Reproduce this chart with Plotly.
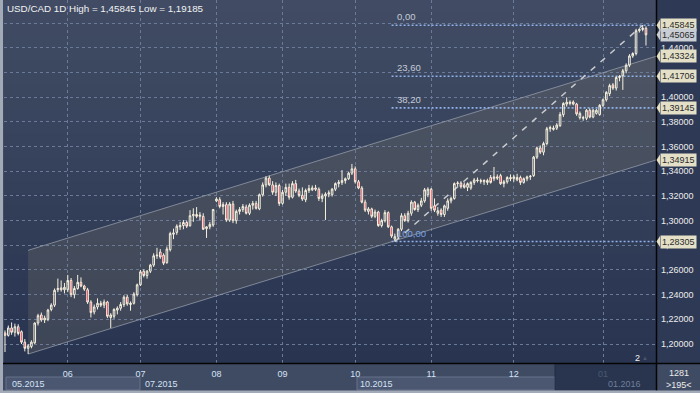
import plotly.graph_objects as go

# ---------------- data ----------------
opens = [
 1.2090,1.2070,1.2130,1.2095,1.2140,1.2100,1.2015,1.1965,1.1980,1.2010,1.2170,1.2235,1.2195,1.2200,1.2280,1.2315,1.2440,1.2455,1.2440,
 1.2440,1.2515,1.2400,1.2450,1.2500,1.2470,1.2440,1.2340,1.2260,1.2300,1.2330,1.2315,1.2340,1.2215,1.2225,1.2275,1.2290,1.2320,1.2380,1.2320,1.2330,1.2400,
 1.2480,1.2590,1.2555,1.2590,1.2640,1.2715,1.2745,1.2720,1.2660,1.2765,1.2890,1.2905,1.2950,1.2960,1.2985,1.2960,1.3040,1.3050,1.3035,1.3035,1.2935,1.2950,1.2965,
 1.3160,1.3170,1.3115,1.3130,1.3005,1.3135,1.3000,1.3075,1.3090,1.3110,1.3060,1.3125,1.3140,1.3095,1.3210,1.3290,1.3345,1.3290,1.3230,1.3285,
 1.3140,1.3230,1.3270,1.3190,1.3300,1.3240,1.3205,1.3170,1.3245,1.3250,1.3265,1.3255,1.3180,1.3200,1.3215,1.3210,1.3255,1.3300,1.3310,1.3325,1.3340,1.3385,
 1.3420,1.3315,1.3265,1.3150,1.3075,1.3095,1.3035,1.3070,1.2960,1.3000,1.3065,1.2950,1.2850,1.2870,1.2930,1.3040,1.3000,1.3060,1.3150,1.3090,1.3125,1.3160,1.3210,
 1.3255,1.3120,1.3060,1.3085,1.3050,1.3100,1.3160,1.3180,1.3300,1.3305,1.3290,1.3270,1.3265,1.3310,1.3330,1.3325,1.3315,1.3310,1.3350,1.3340,1.3355,1.3365,1.3300,1.3315,1.3350,
 1.3340,1.3330,1.3350,1.3310,1.3340,1.3355,1.3365,1.3515,1.3590,1.3555,1.3625,1.3745,1.3740,1.3750,1.3770,1.3860,1.3945,1.3950,1.3962,1.3945,1.3835,1.3830,1.3830,1.3895,1.3840,1.3870,1.3860,
 1.3935,1.3980,1.4030,1.4100,1.4075,1.4160,1.4175,1.4215,1.4260,1.4335,1.4355,1.4540,1.4550,1.4560,
]
highs = [
 1.2110,1.2150,1.2175,1.2165,1.2160,1.2110,1.2040,1.2000,1.2030,1.2175,1.2245,1.2255,1.2230,1.2285,1.2330,1.2450,1.2530,1.2515,1.2495,
 1.2560,1.2535,1.2470,1.2560,1.2540,1.2480,1.2455,1.2355,1.2320,1.2370,1.2350,1.2360,1.2350,1.2250,1.2290,1.2305,1.2340,1.2395,1.2400,1.2345,1.2420,1.2490,
 1.2600,1.2605,1.2600,1.2650,1.2735,1.2780,1.2770,1.2735,1.2790,1.2910,1.2935,1.2970,1.2990,1.3005,1.3000,1.3085,1.3100,1.3110,1.3070,1.3060,1.2955,1.2990,1.3095,
 1.3190,1.3190,1.3150,1.3150,1.3150,1.3160,1.3090,1.3110,1.3135,1.3130,1.3140,1.3160,1.3160,1.3220,1.3310,1.3360,1.3365,1.3320,1.3310,1.3300,
 1.3250,1.3300,1.3300,1.3320,1.3330,1.3260,1.3270,1.3260,1.3290,1.3285,1.3290,1.3270,1.3220,1.3230,1.3245,1.3265,1.3310,1.3330,1.3410,1.3350,1.3395,1.3460,
 1.3440,1.3330,1.3280,1.3170,1.3110,1.3105,1.3090,1.3080,1.3015,1.3085,1.3075,1.2960,1.2895,1.2940,1.3060,1.3060,1.3080,1.3165,1.3160,1.3140,1.3185,1.3265,1.3270,
 1.3265,1.3180,1.3110,1.3100,1.3130,1.3180,1.3195,1.3310,1.3320,1.3320,1.3310,1.3310,1.3320,1.3345,1.3350,1.3340,1.3335,1.3340,1.3370,1.3435,1.3375,1.3380,1.3330,1.3360,1.3375,
 1.3370,1.3380,1.3365,1.3350,1.3365,1.3370,1.3525,1.3600,1.3610,1.3640,1.3760,1.3770,1.3770,1.3790,1.3880,1.3960,1.4000,1.3975,1.3975,1.3955,1.3885,1.3850,1.3905,1.3910,1.3905,1.3905,1.3945,
 1.3990,1.4050,1.4110,1.4115,1.4170,1.4180,1.4230,1.4275,1.4350,1.4365,1.4555,1.4560,1.45845,1.4575,
]
lows = [
 1.1935,1.2060,1.2075,1.2060,1.2070,1.2000,1.1940,1.19185,1.1965,1.2000,1.2150,1.2180,1.2170,1.2185,1.2265,1.2300,1.2420,1.2425,1.2410,
 1.2420,1.2380,1.2370,1.2440,1.2460,1.2430,1.2325,1.2215,1.2240,1.2280,1.2300,1.2290,1.2210,1.2130,1.2205,1.2240,1.2270,1.2300,1.2310,1.2270,1.2320,1.2385,
 1.2470,1.2540,1.2530,1.2575,1.2625,1.2690,1.2690,1.2640,1.2650,1.2750,1.2850,1.2885,1.2925,1.2930,1.2940,1.2950,1.2990,1.3020,1.3000,1.2925,1.2860,1.2930,1.2950,
 1.3150,1.3100,1.3050,1.2990,1.2990,1.2980,1.2975,1.3050,1.3070,1.3050,1.3045,1.3090,1.3090,1.3085,1.3195,1.3270,1.3280,1.3210,1.3200,1.3120,
 1.3130,1.3200,1.3170,1.3180,1.3225,1.3190,1.3160,1.3150,1.3225,1.3240,1.3240,1.3160,1.3150,1.3005,1.3190,1.3195,1.3240,1.3270,1.3290,1.3300,1.3330,1.3370,
 1.3300,1.3255,1.3140,1.3070,1.3050,1.3020,1.3020,1.2950,1.2945,1.2985,1.2940,1.2860,1.28305,1.2855,1.2915,1.2990,1.2985,1.3040,1.3080,1.3070,1.3110,1.3145,1.3190,
 1.3080,1.3070,1.3040,1.3030,1.3030,1.3080,1.3140,1.3170,1.3280,1.3260,1.3260,1.3240,1.3250,1.3290,1.3310,1.3300,1.3290,1.3290,1.3300,1.3320,1.3330,1.3290,1.3270,1.3300,1.3320,
 1.3315,1.3320,1.3290,1.3300,1.3320,1.3330,1.3355,1.3500,1.3540,1.3530,1.3610,1.3720,1.3730,1.3735,1.3760,1.3840,1.3925,1.3935,1.3935,1.3850,1.3820,1.3810,1.3815,1.3830,1.3830,1.3860,1.3850,
 1.3920,1.3965,1.4010,1.4060,1.4055,1.4130,1.4060,1.4195,1.4245,1.4320,1.4340,1.4525,1.4535,1.4420,
]
closes = [
 1.2070,1.2130,1.2095,1.2140,1.2085,1.2015,1.1965,1.1985,1.2015,1.2170,1.2230,1.2195,1.2210,1.2275,1.2315,1.2435,1.2450,1.2440,1.2460,
 1.2515,1.2400,1.2450,1.2500,1.2470,1.2445,1.2340,1.2255,1.2300,1.2330,1.2315,1.2340,1.2225,1.2235,1.2280,1.2290,1.2320,1.2380,1.2325,1.2330,1.2405,1.2480,
 1.2585,1.2555,1.2590,1.2640,1.2715,1.2720,1.2705,1.2655,1.2770,1.2895,1.2900,1.2955,1.2960,1.2985,1.2955,1.3040,1.3050,1.3035,1.3045,1.2930,1.2950,1.2970,1.3090,
 1.3175,1.3115,1.3130,1.3005,1.3135,1.3000,1.3075,1.3090,1.3115,1.3060,1.3125,1.3140,1.3100,1.3210,1.3290,1.3345,1.3290,1.3230,1.3285,1.3140,
 1.3230,1.3270,1.3190,1.3300,1.3240,1.3205,1.3175,1.3245,1.3260,1.3265,1.3255,1.3180,1.3200,1.3215,1.3225,1.3255,1.3300,1.3310,1.3325,1.3340,1.3385,1.3420,
 1.3315,1.3265,1.3150,1.3085,1.3095,1.3035,1.3070,1.2960,1.3000,1.3065,1.2950,1.2875,1.2870,1.2930,1.3040,1.3000,1.3060,1.3150,1.3090,1.3125,1.3160,1.3250,1.3255,
 1.3100,1.3085,1.3080,1.3050,1.3120,1.3160,1.3180,1.3300,1.3305,1.3275,1.3270,1.3300,1.3310,1.3330,1.3325,1.3320,1.3325,1.3325,1.3310,1.3355,1.3345,1.3300,1.3315,1.3350,1.3340,
 1.3355,1.3350,1.3310,1.3340,1.3355,1.3360,1.3515,1.3590,1.3555,1.3625,1.3745,1.3755,1.3750,1.3775,1.3860,1.3950,1.3960,1.3960,1.3945,1.3865,1.3870,1.3835,1.3895,1.3840,1.3895,1.3895,1.3935,
 1.3980,1.4040,1.4095,1.4075,1.4160,1.4170,1.4215,1.4260,1.4335,1.4355,1.4540,1.4550,1.4560,1.45065,
]
bar_idx = list(range(len(closes)))

month_start_idx = [19, 41, 64, 84, 106, 129, 154, 181]
month_labels = ["06", "07", "08", "09", "10", "11", "12", "01"]
period_labels = ["05.2015", "07.2015", "10.2015", "01.2016"]
period_idx = [0, 41, 106, 181]

price_ticks = [1.20, 1.22, 1.24, 1.26, 1.28, 1.30, 1.32, 1.34, 1.36, 1.38, 1.40, 1.42, 1.44, 1.46]

# trend channel (start bar, value at start, value at right edge)
channel_start_idx = 7
channel_lower = [1.19185, 1.34915]
channel_upper = [1.27594, 1.43324]

# fibonacci retracement
fib_low_idx, fib_high_idx = 118, 193
fib_low, fib_high = 1.28305, 1.45845
fib_levels = [0.0, 23.6, 38.2, 100.0]

price_tags = [1.45845, 1.45065, 1.43324, 1.41706, 1.39145, 1.34915, 1.28305]
last_price = 1.45065

# ---------------- geometry helpers ----------------
W, H = 700, 393
ML, MR, MT, MB = 4, 44, 0, 30
PW, PH = W - ML - MR, H - MT - MB
X0, X1 = -0.3, -0.3 + PW / 3.304
Y0, Y1 = 1.2 - 19 / 1233.5, 1.2 + 344 / 1233.5


def px(x):
    return (x - ML) / PW


def py(y):
    return (H - MB - y) / PH


def fmt(v):
    return f"{v:.5f}".replace(".", ",")


FONT = "Liberation Sans, Arial, sans-serif"

fig = go.Figure()
fig.add_trace(go.Candlestick(
    x=bar_idx, open=opens, high=highs, low=lows, close=closes,
    increasing=dict(line=dict(color="#f6f1de", width=1), fillcolor="rgba(0,0,0,0)"),
    decreasing=dict(line=dict(color="#f6f1de", width=1), fillcolor="#e8173c"),
    whiskerwidth=0, showlegend=False, hoverinfo="skip",
))

shapes = []
# background gradient bands
top = (65, 76, 100)
bot = (40, 52, 80)
nb = 30
for k in range(nb):
    t = (k + 0.5) / nb
    c = tuple(round(top[j] + (bot[j] - top[j]) * t) for j in range(3))
    shapes.append(dict(type="rect", xref="paper", yref="paper", layer="below",
                       x0=0, x1=1, y0=py(363 * (k + 1) / nb + 0.5), y1=py(363 * k / nb),
                       fillcolor=f"rgb{c}", line=dict(width=0)))
# channel fill
x_end = X1
cp = (f"M {channel_start_idx},{channel_lower[0]} L {x_end},{channel_lower[1]} "
      f"L {x_end},{channel_upper[1]} L {channel_start_idx},{channel_upper[0]} Z")
shapes.append(dict(type="path", xref="x", yref="y", path=cp, layer="below",
                   fillcolor="rgba(128,124,110,0.24)", line=dict(width=0)))
for a, b in (channel_lower, channel_upper):
    shapes.append(dict(type="line", xref="x", yref="y", layer="between",
                       x0=channel_start_idx, x1=x_end, y0=a, y1=b,
                       line=dict(color="rgba(165,172,185,0.65)", width=1)))
# fib lines
for lv in fib_levels:
    v = fib_high - lv / 100 * (fib_high - fib_low)
    shapes.append(dict(type="line", xref="x", yref="y", layer="between",
                       x0=fib_low_idx - 1, x1=x_end, y0=v, y1=v,
                       line=dict(color="#8fb0e8", width=1.6, dash="2px,2px")))
shapes.append(dict(type="line", xref="x", yref="y", layer="between",
                   x0=fib_low_idx, x1=fib_high_idx, y0=fib_low, y1=fib_high,
                   line=dict(color="#c9cbcf", width=1.5, dash="6px,7px")))

# right axis panel
shapes.append(dict(type="rect", xref="paper", yref="paper", layer="below",
                   x0=px(656), x1=px(700), y0=py(363), y1=py(0),
                   fillcolor="#2e3a55", line=dict(width=0)))
# bottom panel boxes
for a, b in ((6, 140), (357, 555)):
    shapes.append(dict(type="rect", xref="paper", yref="paper", layer="below",
                       x0=px(a), x1=px(b), y0=py(390), y1=py(377),
                       fillcolor="#4b5770", line=dict(color="#66728b", width=1)))
shapes.append(dict(type="rect", xref="paper", yref="paper", layer="above",
                   x0=px(555), x1=px(656), y0=py(390), y1=py(364),
                   fillcolor="rgba(34,46,72,0.78)", line=dict(width=0)))
shapes.append(dict(type="line", xref="paper", yref="paper", layer="above",
                   x0=px(555), x1=px(555), y0=py(390), y1=py(364),
                   line=dict(color="#222c40", width=1)))
shapes.append(dict(type="rect", xref="paper", yref="paper", layer="below",
                   x0=px(657), x1=px(700), y0=py(393), y1=py(363),
                   fillcolor="#3f4b63", line=dict(width=0)))
# separators and frame
shapes.append(dict(type="line", xref="paper", yref="paper", layer="above",
                   x0=px(656.5), x1=px(656.5), y0=py(393), y1=py(0),
                   line=dict(color="#050505", width=1.5)))
shapes.append(dict(type="line", xref="paper", yref="paper", layer="above",
                   x0=px(3), x1=px(700), y0=py(363.5), y1=py(363.5),
                   line=dict(color="#050505", width=1.5)))
shapes.append(dict(type="rect", xref="paper", yref="paper", layer="above",
                   x0=px(0), x1=px(3), y0=py(393), y1=py(0),
                   fillcolor="#a2aab8", line=dict(width=0)))
shapes.append(dict(type="rect", xref="paper", yref="paper", layer="above",
                   x0=px(0), x1=px(700), y0=py(393), y1=py(390.5),
                   fillcolor="#a2aab8", line=dict(width=0)))
# tag arrows
dy = 5.5 / 1233.5
for v in price_tags:
    col = "#c9cdd4" if v == last_price else "#e4e0c8"
    shapes.append(dict(type="path", xref="paper", yref="y", layer="above",
                       path=f"M {px(656.5)},{v} L {px(660)},{v + dy} L {px(660)},{v - dy} Z",
                       fillcolor=col, line=dict(width=0)))

ann = []
ann.append(dict(text="USD/CAD 1D High = 1,45845 Low = 1,19185", xref="paper", yref="paper",
                x=px(5), y=py(8.5), xanchor="left", yanchor="middle", showarrow=False,
                font=dict(family=FONT, size=9.8, color="#f2f2f2")))
for lv in fib_levels:
    v = fib_high - lv / 100 * (fib_high - fib_low)
    col = "#78a2e0" if lv == 100.0 else "#c6ccd8"
    ann.append(dict(text=f"{lv:.2f}".replace(".", ","), xref="x", yref="y", x=fib_low_idx, y=v,
                    xanchor="left", yanchor="bottom", yshift=1, showarrow=False,
                    font=dict(family=FONT, size=9.5, color=col)))
for v in price_tags:
    col = "#c9cdd4" if v == last_price else "#e4e0c8"
    ann.append(dict(text=fmt(v), xref="paper", yref="y", x=px(659.5), y=v,
                    xanchor="left", yanchor="middle", showarrow=False, bgcolor=col,
                    borderpad=1, font=dict(family=FONT, size=9, color="#2b2b2b")))
for lab, i in zip(period_labels, period_idx):
    dim = lab == "01.2016"
    ann.append(dict(text=lab, xref="x" if i > 0 else "paper", yref="paper",
                    x=i if i > 0 else px(10), y=py(384), xanchor="left", yanchor="middle",
                    xshift=3 if i > 0 else 0, showarrow=False,
                    font=dict(family=FONT, size=9, color="#6f7f9c" if dim else "#d4e2f6")))
ann.append(dict(text="2", xref="paper", yref="paper", x=px(637), y=py(357.5), showarrow=False,
                xanchor="center", yanchor="middle",
                font=dict(family=FONT, size=9, color="#f2f2f2")))
ann.append(dict(text="▲", xref="paper", yref="paper", x=px(645), y=py(358), showarrow=False,
                xanchor="center", yanchor="middle",
                font=dict(family=FONT, size=6, color="#4c556a")))
ann.append(dict(text="1281", xref="paper", yref="paper", x=px(678.5), y=py(372.5), showarrow=False,
                xanchor="center", yanchor="middle",
                font=dict(family=FONT, size=9, color="#ececec")))
ann.append(dict(text="&gt;195&lt;", xref="paper", yref="paper", x=px(678.5), y=py(384.5), showarrow=False,
                xanchor="center", yanchor="middle",
                font=dict(family=FONT, size=9, color="#ececec")))

fig.update_layout(
    width=W, height=H, margin=dict(l=ML, r=MR, t=MT, b=MB, pad=0, autoexpand=False),
    paper_bgcolor="#3f4b63", plot_bgcolor="rgba(0,0,0,0)",
    shapes=shapes, annotations=ann, showlegend=False,
    font=dict(family=FONT, size=9, color="#e6e6e6"),
    xaxis=dict(range=[X0, X1], rangeslider=dict(visible=False), tickmode="array",
               tickvals=month_start_idx, ticktext=month_labels, showgrid=True,
               gridcolor="#6b7a98", griddash="3px,3px", gridwidth=1, zeroline=False,
               showline=False, ticks="", ticklabelstandoff=4, automargin=False,
               tickfont=dict(family=FONT, size=9, color="#d4e2f6")),
    yaxis=dict(range=[Y0, Y1], side="right", tickmode="array", tickvals=price_ticks,
               ticktext=[fmt(v) for v in price_ticks], showgrid=True,
               gridcolor="#6b7a98", griddash="3px,3px", gridwidth=1, zeroline=False,
               showline=False, ticks="", ticklabelstandoff=4, automargin=False,
               tickfont=dict(family=FONT, size=9, color="#ececec")),
)

fig.write_html("out.html", config={"displayModeBar": False},
               post_script="document.body.style.margin='0px';document.body.style.overflow='hidden';")
